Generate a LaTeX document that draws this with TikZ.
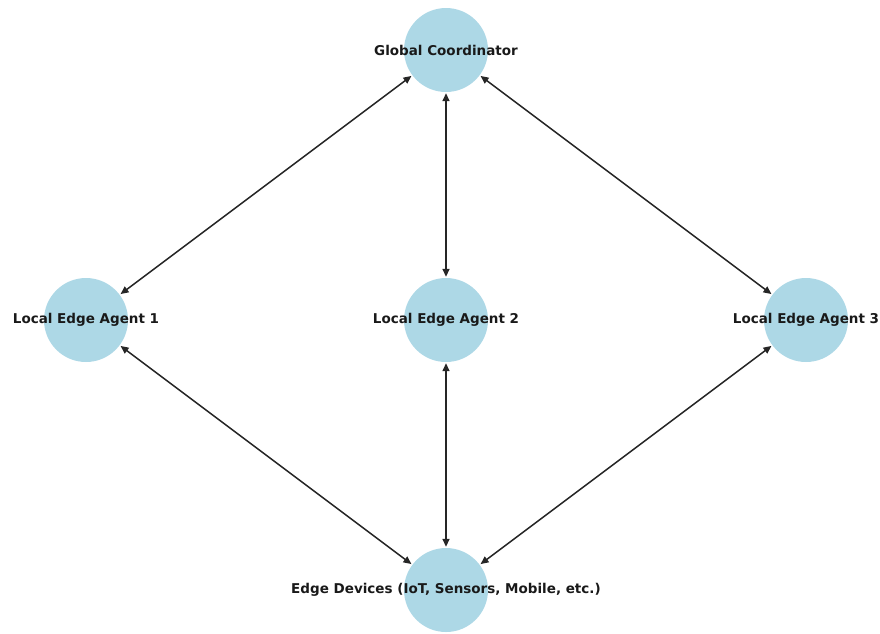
\documentclass[tikz,border=0pt]{standalone}
\usepackage{fontspec}
\setmainfont{DejaVu Sans}
\usetikzlibrary{arrows.meta}
\definecolor{nodeblue}{HTML}{ADD8E6}
\tikzset{
  agent/.style={circle, fill=nodeblue, minimum size=84pt, inner sep=0pt},
  lbl/.style={font=\bfseries\fontsize{13.5}{16}\selectfont, text=black!90},
  link/.style={{Triangle[length=8pt,width=7pt]}-{Triangle[length=8pt,width=7pt]}, line width=1.5pt, black!85, shorten <=1pt, shorten >=1pt}
}
\begin{document}
\begin{tikzpicture}[x=1pt,y=-1pt]
\useasboundingbox (0,0) rectangle (880,633);
\node[agent] (gc) at (446,50) {};
\node[agent] (a1) at (86,320) {};
\node[agent] (a2) at (446,320) {};
\node[agent] (a3) at (806,320) {};
\node[agent] (ed) at (446,590) {};
\draw[link] (gc) -- (a1);
\draw[link] (gc) -- (a2);
\draw[link] (gc) -- (a3);
\draw[link] (a1) -- (ed);
\draw[link] (a2) -- (ed);
\draw[link] (a3) -- (ed);
\node[lbl] (tgc) at (gc) {Global Coordinator};
\node[lbl] (ta1) at (a1) {Local Edge Agent 1};
\node[lbl] (ta2) at (a2) {Local Edge Agent 2};
\node[lbl] (ta3) at (a3) {Local Edge Agent 3};
\node[lbl] (ted) at (ed) {Edge Devices (IoT, Sensors, Mobile, etc.)};
\end{tikzpicture}
\end{document}
